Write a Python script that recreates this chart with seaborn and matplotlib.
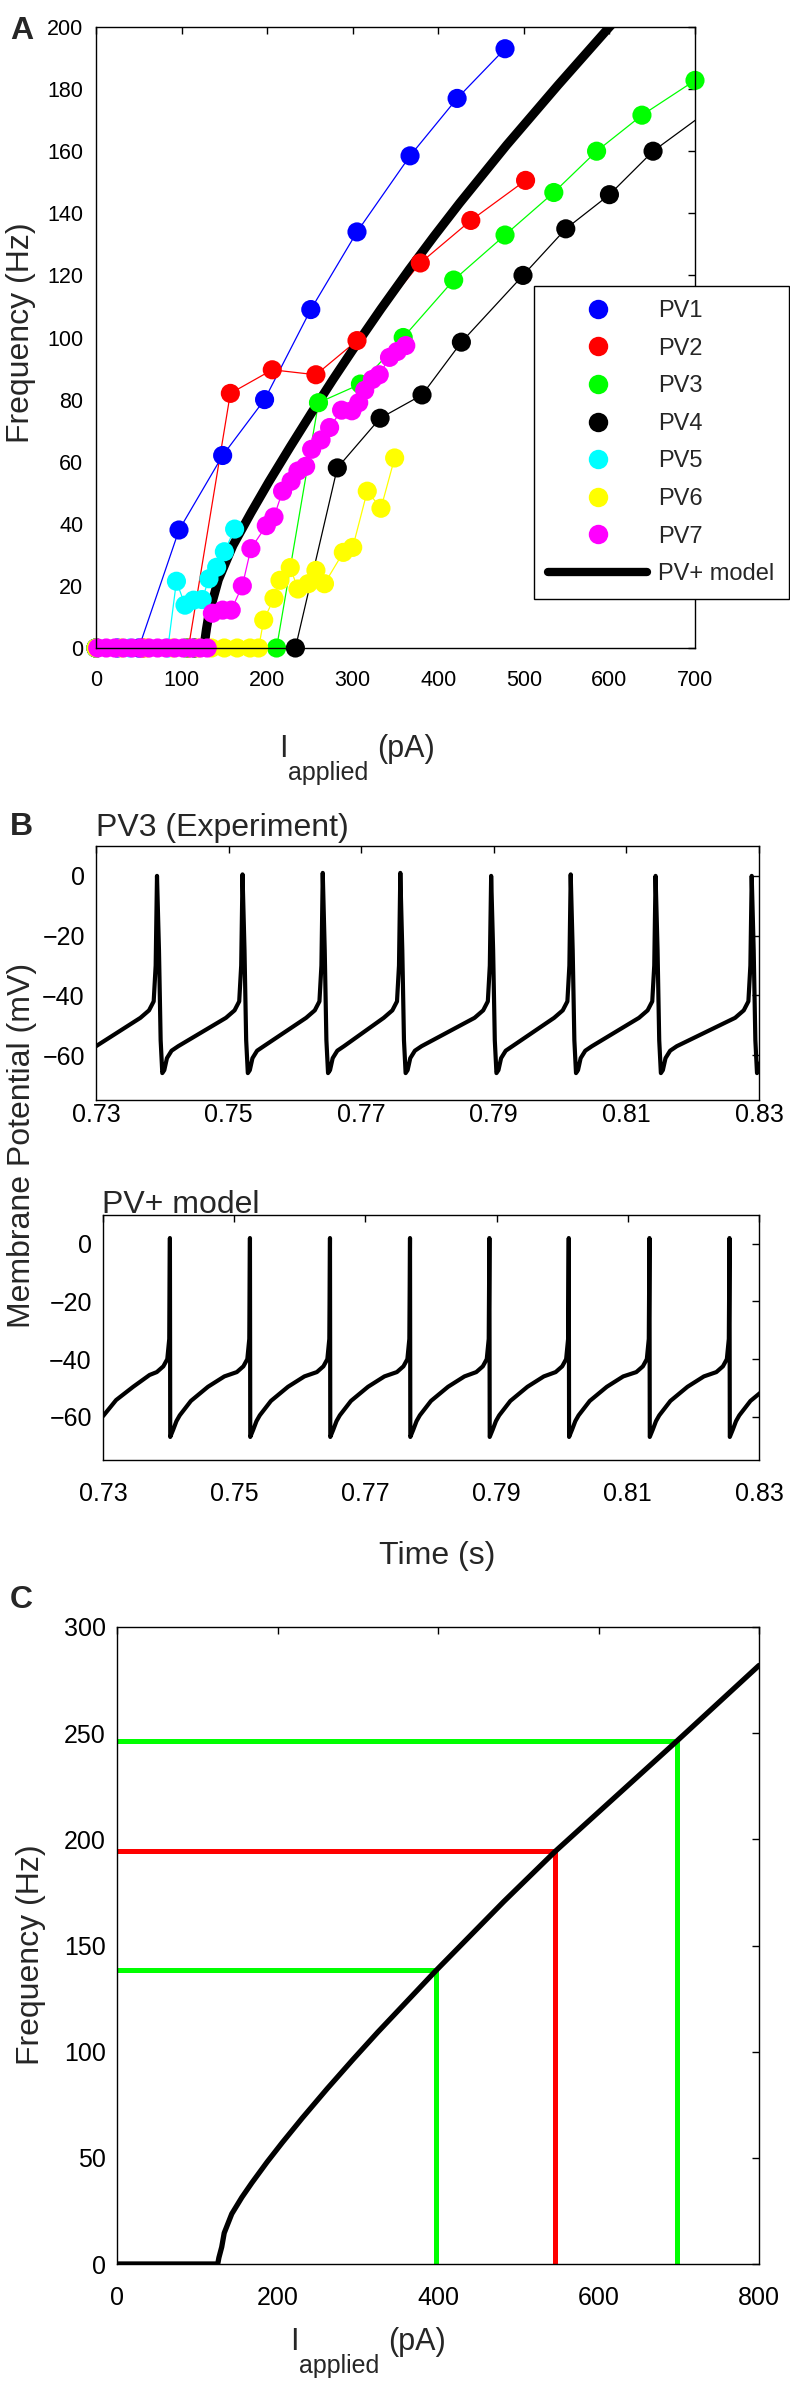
import numpy as np
import pandas as pd
import seaborn as sns
import matplotlib.pyplot as plt
from matplotlib.lines import Line2D

# ---- Panel A: f-I data of the PV cells ----
pv1_i = [0, 25, 50, 97, 148, 197, 251, 305, 367, 422, 478]
pv1_f = [0, 0, 0, 38, 62, 80, 109, 134, 158.5, 177, 193]
pv2_i = [0, 55, 108, 157, 206, 257, 305, 379, 438, 502]
pv2_f = [0, 0, 0, 82, 89.6, 88, 99, 124, 137.7, 150.6]
pv3_i = [0, 105, 211, 260, 309, 359, 418, 478, 535, 585, 638, 700]
pv3_f = [0, 0, 0, 79, 85, 100, 118.5, 133, 146.7, 160, 171.6, 182.8]
pv4_i = [0, 115, 233, 282, 332, 381, 427, 499, 549, 600, 651, 750]
pv4_f = [0, 0, 0, 58, 74, 81.5, 98.5, 120, 135, 146, 160, 180]
pv5_i = [0, 40, 84, 94, 104, 114, 124, 132, 141, 150, 162]
pv5_f = [0, 0, 0, 21.5, 13.8, 15.4, 15.6, 22.3, 26, 31, 38.3]
pv6_i = [0, 30, 60, 90, 120, 135, 150, 165, 180, 190, 196, 208, 215, 227,
         236, 248, 257, 267, 289, 300, 317, 333, 349]
pv6_f = [0, 0, 0, 0, 0, 0, 0, 0, 0, 0, 9, 16, 21.8, 25.9,
         19, 20.7, 25, 20.7, 30.8, 32.4, 50.5, 45, 61.2]
pv7_i = [2, 12, 22, 32, 42, 52, 62, 72, 82, 92, 102, 112, 122, 130,
         136, 148, 158, 171, 181, 199, 208, 218, 228, 236, 245, 252, 263,
         273, 287, 299, 307, 314, 323, 331, 343, 352, 362]
pv7_f = [0, 0, 0, 0, 0, 0, 0, 0, 0, 0, 0, 0, 0, 0,
         11.2, 12.2, 12.2, 20, 32, 39.4, 42.2, 50.5, 53.7, 57, 58.5, 64, 67,
         71, 76.6, 76.4, 79, 83, 86.5, 88, 93.6, 95.5, 97.4]
model_a_i = [0, 126, 129, 132, 143, 160, 181, 202, 227, 252, 277, 300, 333,
             366, 395, 425, 480, 540, 600, 620]
model_a_f = [0, 0, 6, 11, 22, 33, 43.5, 53.5, 64.8, 75.8, 86.5, 96, 109.2,
             121.9, 132.6, 143.3, 162, 181.3, 200, 206]

cells = ['PV1', 'PV2', 'PV3', 'PV4', 'PV5', 'PV6', 'PV7']
cell_colors = ['#0000ff', '#ff0000', '#00ff00', '#000000', '#00ffff', '#ffff00', '#ff00ff']

# ---- Panel B: membrane potential traces ----
# experiment (PV3): spike times, peaks and one spike shape
exp_start_t = [0.73]
exp_start_v = [-57]
exp_spike_t = [0.7392, 0.7521, 0.7642, 0.7759, 0.7896, 0.8016, 0.8144, 0.8289]
exp_peak_v = [0, 0.5, 1, 1, 0, 0.5, 0, 0]
exp_pre_ms = [-2.5, -1.2, -0.5, -0.2]
exp_pre_v = [-47.5, -45, -42, -30]
exp_post_ms = [0.3, 0.55, 0.8, 1.1, 1.5, 2.2, 3.2]
exp_post_v = [-25, -55, -66, -65, -61, -58.5, -57]

# PV+ model
mod_start_t = [0.73, 0.732, 0.7346, 0.7371]
mod_start_v = [-59.8, -54.2, -49.6, -45.5]
mod_spike_t = [0.7402, 0.7524, 0.7646, 0.7768, 0.7889, 0.8010, 0.8133, 0.8255]
mod_peak_v = [2, 2, 2, 2, 2, 2, 2, 2]
mod_pre_ms = [-2.0, -1.0, -0.4, -0.1]
mod_pre_v = [-44.5, -42.5, -40, -33]
mod_post_ms = [0.05, 0.5, 1.0, 1.5, 3.2, 5.8, 8.3]
mod_post_v = [-67, -64.5, -61.5, -59.5, -54.5, -49.6, -46]

# ---- Panel C: model f-I curve and the three chosen currents ----
c_model_i = [0, 125.5, 127, 130.5, 133.6, 143, 155.6, 168, 187, 206, 231, 262,
             294, 325, 356, 397, 482, 546, 607, 698, 800]
c_model_f = [0, 0, 3, 8, 14.6, 23.6, 31.4, 38.2, 48, 57.2, 68.8, 82.6,
             96.3, 109.2, 121.6, 138, 170.7, 194.3, 215.2, 246.4, 281.9]
c_pick_i = [397, 546, 698]
c_pick_f = [138.5, 194.3, 246.4]
c_pick_colors = ['#00ff00', '#ff0000', '#00ff00']


def build_trace(start_t, start_v, spike_t, peak_v, pre_ms, pre_v, post_ms, post_v):
    t = list(start_t)
    v = list(start_v)
    for ts, pk in zip(spike_t, peak_v):
        for dt, vv in zip(pre_ms, pre_v):
            t.append(ts + dt / 1000)
            v.append(vv)
        t.append(ts)
        v.append(pk)
        for dt, vv in zip(post_ms, post_v):
            t.append(ts + dt / 1000)
            v.append(vv)
    return pd.DataFrame({'t': t, 'v': v})


sns.set_style('white')
plt.rcParams['font.family'] = ['Liberation Sans', 'DejaVu Sans']

W, H = 790, 2389
fig = plt.figure(figsize=(W / 100, H / 100), dpi=100)


def px_axes(left, top, right, bottom):
    return fig.add_axes([left / W, 1 - bottom / H, (right - left) / W, (bottom - top) / H])


def style_axes(ax, labelsize, xpad, ypad):
    ax.tick_params(direction='in', top=True, right=True, length=5, width=1,
                   labelsize=labelsize, colors='black')
    ax.tick_params(axis='x', pad=xpad)
    ax.tick_params(axis='y', pad=ypad)
    for s in ax.spines.values():
        s.set_visible(True)
        s.set_color('black')
        s.set_linewidth(1)
        s.set_zorder(6)
    ax.set_xlabel('')
    ax.set_ylabel('')


def fig_text(x, y, s, **kw):
    fig.text(x / W, 1 - y / H, s, **kw)


# ---------------- Panel A ----------------
axA = px_axes(96, 27, 695, 648)
rows = []
for name, xs, ys in zip(cells, [pv1_i, pv2_i, pv3_i, pv4_i, pv5_i, pv6_i, pv7_i],
                        [pv1_f, pv2_f, pv3_f, pv4_f, pv5_f, pv6_f, pv7_f]):
    rows.append(pd.DataFrame({'cell': name, 'I': xs, 'f': ys}))
df_a = pd.concat(rows, ignore_index=True)
pal = dict(zip(cells, cell_colors))

sns.lineplot(data=df_a, x='I', y='f', hue='cell', palette=pal, sort=False,
             estimator=None, legend=False, linewidth=0.9, ax=axA)
sns.lineplot(x=model_a_i, y=model_a_f, color='black', linewidth=6.5, sort=False,
             estimator=None, ax=axA, zorder=3)
sns.scatterplot(data=df_a[df_a['I'] <= 700], x='I', y='f', hue='cell', palette=pal,
                s=190, linewidth=0, legend=False, clip_on=False, zorder=4, ax=axA)
axA.set_xlim(0, 700)
axA.set_ylim(0, 200)
axA.set_xticks([0, 100, 200, 300, 400, 500, 600, 700])
axA.set_yticks([0, 20, 40, 60, 80, 100, 120, 140, 160, 180, 200])
style_axes(axA, 15.5, 16, 9)

handles = [Line2D([], [], marker='o', linestyle='none', color=c, markersize=14,
                  markeredgewidth=0) for c in cell_colors]
handles.append(Line2D([], [], color='black', linewidth=6))
leg = fig.legend(handles, cells + ['PV+ model'], loc='upper left',
                 bbox_to_anchor=(534 / W, 1 - 286 / H),
                 frameon=True, fancybox=False, edgecolor='black', framealpha=1,
                 fontsize=17, handlelength=4.2, handletextpad=0.47,
                 labelspacing=0.66, borderpad=0.6, borderaxespad=0)
leg.get_frame().set_linewidth(1)

fig_text(10, 39, 'A', fontsize=23, fontweight='bold', ha='left', va='baseline')
fig_text(21, 333, 'Frequency (Hz)', fontsize=23, rotation=90, ha='center', va='center')
fig_text(279, 757, 'I', fontsize=22, ha='left', va='baseline')
fig_text(288, 780, 'applied', fontsize=18, ha='left', va='baseline')
fig_text(377, 757, '(pA)', fontsize=22, ha='left', va='baseline')

# ---------------- Panel B ----------------
exp_trace = build_trace(exp_start_t, exp_start_v, exp_spike_t, exp_peak_v,
                        exp_pre_ms, exp_pre_v, exp_post_ms, exp_post_v)
mod_trace = build_trace(mod_start_t, mod_start_v, mod_spike_t, mod_peak_v,
                        mod_pre_ms, mod_pre_v, mod_post_ms, mod_post_v)
b_ticks = [0.73, 0.75, 0.77, 0.79, 0.81, 0.83]
b_ticklabels = ['0.73', '0.75', '0.77', '0.79', '0.81', '0.83']

axB1 = px_axes(96, 846, 759, 1100)
sns.lineplot(data=exp_trace, x='t', y='v', color='black', linewidth=3,
             sort=False, estimator=None, ax=axB1)
axB2 = px_axes(103, 1215, 759, 1460)
sns.lineplot(data=mod_trace, x='t', y='v', color='black', linewidth=3,
             sort=False, estimator=None, ax=axB2)
for ax, xpad in [(axB1, 2), (axB2, 16)]:
    ax.set_xlim(0.73, 0.83)
    ax.set_ylim(-75, 10)
    ax.set_xticks(b_ticks)
    ax.set_xticklabels(b_ticklabels)
    ax.set_yticks([0, -20, -40, -60])
    style_axes(ax, 18, xpad, 8)

fig_text(10, 835, 'B', fontsize=23, fontweight='bold', ha='left', va='baseline')
fig_text(96, 836, 'PV3 (Experiment)', fontsize=23, ha='left', va='baseline')
fig_text(102, 1213, 'PV+ model', fontsize=23, ha='left', va='baseline')
fig_text(22, 1145, 'Membrane Potential (mV)', fontsize=23, rotation=90,
         ha='center', va='center')
fig_text(437, 1564, 'Time (s)', fontsize=23, ha='center', va='baseline')

# ---------------- Panel C ----------------
axC = px_axes(117, 1627, 759, 2264)
for i_val, f_val, col in zip(c_pick_i, c_pick_f, c_pick_colors):
    sns.lineplot(x=[0, i_val, i_val], y=[f_val, f_val, 0], color=col, linewidth=3.6,
                 sort=False, estimator=None, ax=axC)
sns.lineplot(x=c_model_i, y=c_model_f, color='black', linewidth=3.8, sort=False,
             estimator=None, ax=axC, zorder=3)
axC.set_xlim(0, 800)
axC.set_ylim(0, 300)
axC.set_xticks([0, 200, 400, 600, 800])
axC.set_yticks([0, 50, 100, 150, 200, 250, 300])
style_axes(axC, 18, 16, 8)

fig_text(10, 1608, 'C', fontsize=23, fontweight='bold', ha='left', va='baseline')
fig_text(31, 1955, 'Frequency (Hz)', fontsize=23, rotation=90, ha='center', va='center')
fig_text(290, 2350, 'I', fontsize=22, ha='left', va='baseline')
fig_text(299, 2373, 'applied', fontsize=18, ha='left', va='baseline')
fig_text(388, 2350, '(pA)', fontsize=22, ha='left', va='baseline')

fig.savefig('out.png', dpi=100)
